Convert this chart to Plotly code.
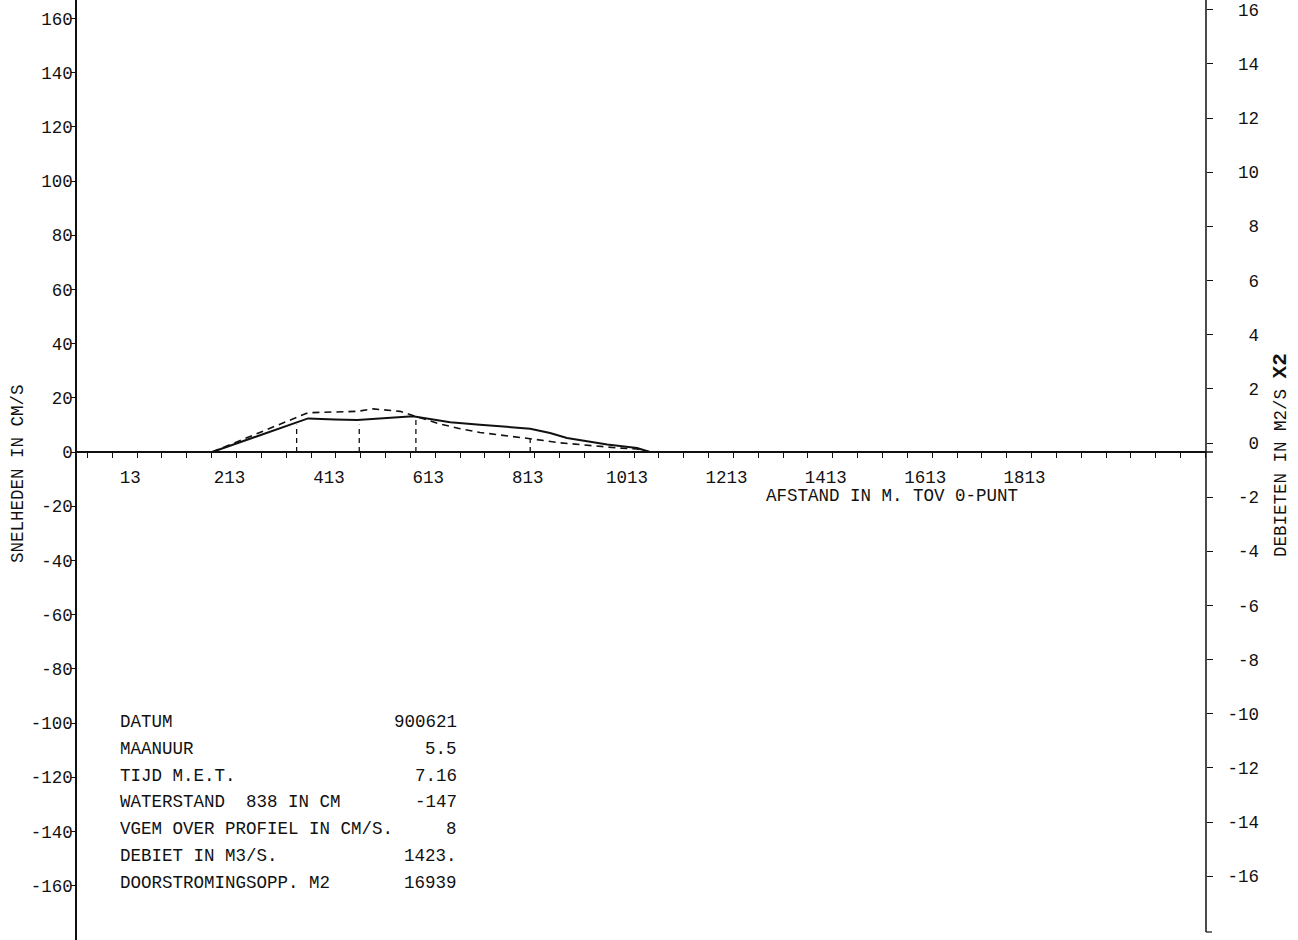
import plotly.graph_objects as go

# ---------------- data ----------------
# solid curve: velocity (cm/s) along the cross-section (m)
x_solid = [164, 357, 411, 456, 568, 643, 703, 804, 844, 878, 959, 1019, 1045]
v_solid = [0, 12.4, 12.0, 11.8, 13.2, 11.0, 10.1, 8.6, 7.0, 5.2, 2.8, 1.5, 0]

# dashed curve: discharge per unit width (plotted in left-axis units)
x_dashed = [164, 357, 456, 488, 542, 568, 623, 663, 703, 804, 864, 980, 1019, 1045]
v_dashed = [0, 14.5, 15.0, 15.9, 15.0, 13.5, 10.3, 8.6, 7.2, 4.9, 3.4, 1.5, 1.1, 0]

# measuring verticals (dashed vertical marks)
vert_x = [334, 460, 574, 804]
vert_top = [10.1, 10.1, 13.0, 6.5]

# axis ticks
x_label_vals = [13, 213, 413, 613, 813, 1013, 1213, 1413, 1613, 1813]
x_minor_start, x_minor_end, x_minor_step = -87, 2163, 50
y_left_ticks = [160, 140, 120, 100, 80, 60, 40, 20, 0, -20, -40, -60, -80, -100, -120, -140, -160]
y_right_ticks = [16, 14, 12, 10, 8, 6, 4, 2, 0, -2, -4, -6, -8, -10, -12, -14, -16]

# info block
info_labels = ["DATUM", "MAANUUR", "TIJD M.E.T.", "WATERSTAND  838 IN CM",
               "VGEM OVER PROFIEL IN CM/S.", "DEBIET IN M3/S.", "DOORSTROMINGSOPP. M2"]
info_values = ["900621", "5.5", "7.16", "-147", "8", "1423.", "16939"]

# ---------------- figure ----------------
W, H = 1298, 940
L, R = 77, 92
PW = W - L - R
FONT = "Liberation Mono"
FS = 17.5
INK = "#111111"

def px(xp):
    return (xp - L) / PW

def py(yp):
    return 1 - yp / H

fig = go.Figure()

fig.add_trace(go.Scatter(x=x_solid, y=v_solid, mode="lines",
                         line=dict(color=INK, width=2), hoverinfo="skip"))
fig.add_trace(go.Scatter(x=x_dashed, y=v_dashed, mode="lines",
                         line=dict(color=INK, width=1.6, dash="7px,5px"), hoverinfo="skip"))

vx, vy = [], []
for xv, tv in zip(vert_x, vert_top):
    vx += [xv, xv, None]
    vy += [0, tv, None]
fig.add_trace(go.Scatter(x=vx, y=vy, mode="lines",
                         line=dict(color=INK, width=1.3, dash="5px,4px"), hoverinfo="skip"))

# invisible trace to activate y2
fig.add_trace(go.Scatter(x=[None], y=[None], yaxis="y2", showlegend=False))

tickvals_x = list(range(x_minor_start, x_minor_end + 1, x_minor_step))
ticktext_x = [str(v) if v in x_label_vals else "" for v in tickvals_x]

zero_px = 452.0
scale_l = 2.71
y_range = [-(H - zero_px) / scale_l, zero_px / scale_l]
zero2_px = 443.0
scale_r = 27.08
y2_range = [-(H - zero2_px) / scale_r, zero2_px / scale_r]

nb = "\u00a0"
right_text = [(nb * (3 - len(str(v)))) + str(v) for v in y_right_ticks]

fig.update_layout(
    width=W, height=H,
    margin=dict(l=L, r=R, t=0, b=0, pad=0, autoexpand=False),
    paper_bgcolor="white", plot_bgcolor="white",
    showlegend=False,
    font=dict(family=FONT, size=FS, color=INK),
    xaxis=dict(
        range=[-108, 2164],
        anchor="free", position=(H - zero_px) / H,
        showgrid=False, zeroline=False,
        showline=True, linecolor=INK, linewidth=1.5,
        tickmode="array", tickvals=tickvals_x, ticktext=ticktext_x,
        ticks="outside", ticklen=5, tickwidth=1.2, tickcolor=INK,
        ticklabelshift=-7, ticklabelstandoff=4,
        tickfont=dict(family=FONT, size=FS, color=INK),
    ),
    yaxis=dict(
        range=y_range,
        showgrid=False, zeroline=False,
        showline=True, linecolor=INK, linewidth=1.5,
        tickmode="array", tickvals=y_left_ticks, ticktext=[str(v) for v in y_left_ticks],
        ticks="outside", ticklen=4, tickwidth=1.2, tickcolor=INK,
        ticklabelstandoff=-5,
        tickfont=dict(family=FONT, size=FS, color=INK),
    ),
    yaxis2=dict(
        range=y2_range, overlaying="y", side="right", anchor="x",
        showgrid=False, zeroline=False, showline=False,
        tickmode="array", tickvals=y_right_ticks, ticktext=right_text,
        ticks="outside", ticklen=6, tickwidth=1.2, tickcolor=INK,
        ticklabelstandoff=11,
        tickfont=dict(family=FONT, size=FS, color=INK),
    ),
)

# right axis line ending above the bottom with a small foot
bottom_r = -(932 - zero2_px) / scale_r
fig.add_shape(type="line", xref="paper", yref="y2", x0=1, x1=1, y0=bottom_r, y1=y2_range[1],
              line=dict(color=INK, width=1.5))
fig.add_shape(type="line", xref="paper", yref="y2", x0=1, x1=1 + 6 / PW, y0=bottom_r, y1=bottom_r,
              line=dict(color=INK, width=1.2))
# zero line small overshoot right of the right axis
fig.add_shape(type="line", xref="paper", yref="paper", x0=1 - 24 / PW, x1=1 + 7 / PW,
              y0=(H - zero_px) / H, y1=(H - zero_px) / H, line=dict(color=INK, width=1.5))

ann = []
ann.append(dict(text="SNELHEDEN IN CM/S", xref="paper", yref="paper",
                x=px(18), y=py(474), textangle=-90, showarrow=False,
                xanchor="center", yanchor="middle", font=dict(family=FONT, size=FS, color=INK)))
ann.append(dict(text="DEBIETEN IN M2/S <b><span style='font-size:21px'>X2</span></b>",
                xref="paper", yref="paper",
                x=px(1280), y=py(455), textangle=-90, showarrow=False,
                xanchor="center", yanchor="middle", font=dict(family=FONT, size=FS, color=INK)))
ann.append(dict(text="AFSTAND IN M. TOV 0-PUNT", xref="paper", yref="paper",
                x=px(892), y=py(496), showarrow=False,
                xanchor="center", yanchor="middle", font=dict(family=FONT, size=FS, color=INK)))

for i, (lab, val) in enumerate(zip(info_labels, info_values)):
    yy = py(721.7 + 26.9 * i)
    ann.append(dict(text=lab.replace(" ", nb), xref="paper", yref="paper", x=px(118), y=yy,
                    showarrow=False, xanchor="left", yanchor="middle",
                    font=dict(family=FONT, size=FS, color=INK)))
    ann.append(dict(text=val, xref="paper", yref="paper", x=px(459), y=yy,
                    showarrow=False, xanchor="right", yanchor="middle",
                    font=dict(family=FONT, size=FS, color=INK)))

fig.update_layout(annotations=ann)

fig.write_html(
    "out.html",
    config={"displayModeBar": False},
    post_script="document.body.style.margin='0';document.body.style.overflow='hidden';",
)
